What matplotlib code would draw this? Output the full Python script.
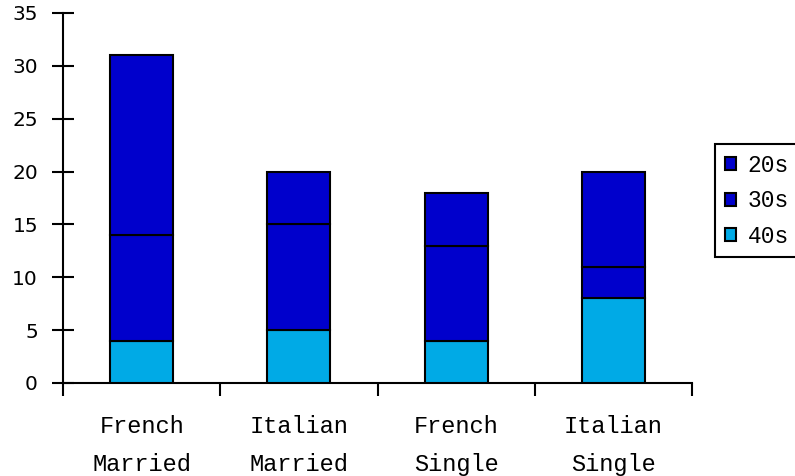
import matplotlib.pyplot as plt
from matplotlib.patches import Patch
import numpy as np

categories = [("French", "Married"), ("Italian", "Married"),
              ("French", "Single"), ("Italian", "Single")]
series_names = ["20s", "30s", "40s"]
age_40s = [4, 5, 4, 8]
age_30s = [10, 10, 9, 3]
age_20s = [17, 5, 5, 9]

dark_blue = "#0000CC"
light_blue = "#00AAE6"
mono = "Liberation Mono"
plt.rcParams["font.family"] = "DejaVu Sans"

fig = plt.figure(figsize=(7.95, 4.76), dpi=100)
ax = fig.add_axes([63 / 795, 93 / 476, 629 / 795, 370 / 476])

x = np.arange(len(categories)) + 0.5
w = 0.4
bottom = np.zeros(len(categories))
for vals, col in [(age_40s, light_blue), (age_30s, dark_blue), (age_20s, dark_blue)]:
    ax.bar(x, vals, w, bottom=bottom, color=col, edgecolor="black", linewidth=1.5, zorder=3)
    bottom += np.array(vals)

ax.set_xlim(0, len(categories))
ax.set_ylim(0, 35)
for s in ["top", "right"]:
    ax.spines[s].set_visible(False)
for s in ["left", "bottom"]:
    ax.spines[s].set_linewidth(1.5)

ax.set_yticks(np.arange(0, 36, 5))
ax.tick_params(axis="y", direction="inout", length=16, width=1.5, labelsize=14.5, pad=10)
ax.set_xticks(np.arange(0, len(categories) + 1))
ax.set_xticklabels([])
ax.tick_params(axis="x", direction="out", length=9, width=1.5)

for xi, (a, b) in zip(x, categories):
    ax.text(xi, -4.1, a, ha="center", va="center", fontsize=17, family=mono)
    ax.text(xi, -7.7, b, ha="center", va="center", fontsize=17, family=mono)

handles = [Patch(facecolor=c, edgecolor="black", linewidth=1.5)
           for c in [dark_blue, dark_blue, light_blue]]
leg = fig.legend(handles, series_names, loc="upper left",
                 bbox_to_anchor=(715 / 795, 1 - 144 / 476),
                 prop={"family": mono, "size": 16.5}, handlelength=0.5, handleheight=0.5,
                 handletextpad=0.5, labelspacing=0.55, borderpad=0.42, borderaxespad=0,
                 fancybox=False, framealpha=1, edgecolor="black")
leg.get_frame().set_linewidth(1.5)

fig.savefig("out.png", dpi=100)
